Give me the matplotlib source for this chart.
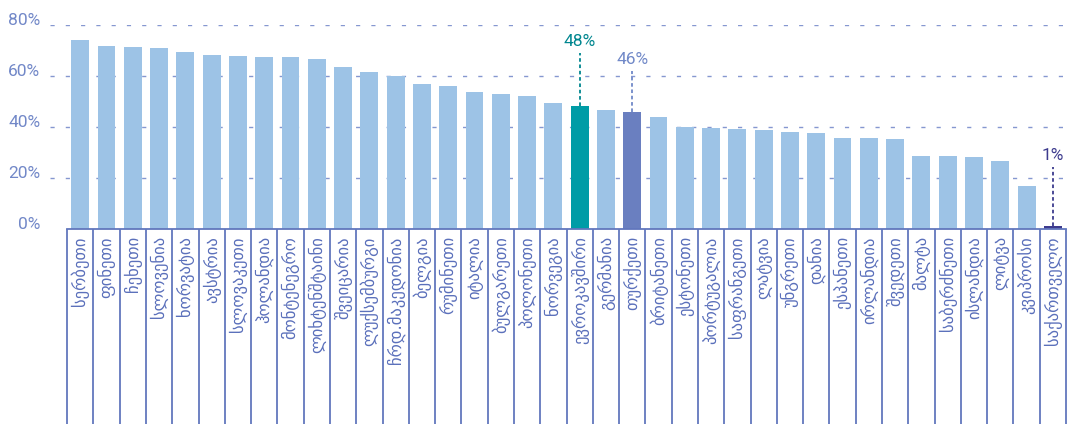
import numpy as np
import matplotlib
matplotlib.use('Agg')
import matplotlib.pyplot as plt
import matplotlib.transforms as mtransforms

#category labels (countries), left to right
countries = ['სერბეთი', 'ფინეთი', 'ჩეხეთი', 'სლოვენია', 'ხორვატია', 'ავსტრია',
             'სლოვაკეთი', 'ჰოლანდია', 'მონტენეგრო', 'ლიხტენშტაინი', 'შვეიცარია',
             'ლუქსემბურგი', 'ჩრდ.მაკედონია', 'ბელგია', 'რუმინეთი', 'იტალია',
             'ბულგარეთი', 'პოლონეთი', 'ნორვეგია', 'ევროკავშირი', 'გერმანია',
             'თურქეთი', 'ბრიტანეთი', 'ესტონეთი', 'პორტუგალია', 'საფრანგეთი',
             'ლატვია', 'უნგრეთი', 'დანია', 'ესპანეთი', 'ირლანდია', 'შვედეთი',
             'მალტა', 'საბერძნეთი', 'ისლანდია', 'ლიტვა', 'კვიპროსი', 'საქართველო']

#share in percent
values = [74.1, 71.8, 71.4, 71.0, 69.4, 68.2, 67.8, 67.5, 67.5, 66.7, 63.5,
          61.6, 60.0, 56.9, 56.1, 53.7, 52.9, 52.2, 49.4, 48.2, 46.7, 45.9,
          43.9, 40.0, 39.6, 39.2, 38.8, 38.0, 37.6, 35.7, 35.7, 35.3, 28.6,
          28.6, 28.2, 26.7, 16.9, 1.0]

#highlighted bars and their labels
highlights = {'ევროკავშირი': '48%', 'თურქეთი': '46%', 'საქართველო': '1%'}

yticks = [0, 20, 40, 60, 80]

light = '#9dc3e6'
bar_colors = {'ევროკავშირი': '#009ca6', 'თურქეთი': '#6a7fc0', 'საქართველო': '#3d3b8e'}
text_colors = {'ევროკავშირი': '#00868f', 'თურქეთი': '#7189c8', 'საქართველო': '#3d3b8e'}
label_y = {'ევროკავშირი': 70.5, 'თურქეთი': 63.5, 'საქართველო': 26.0}  #where the value text sits
axis_blue = '#6277bd'
num_font = ['Roboto', 'DejaVu Sans']

fig = plt.figure(figsize=(10.83, 4.36), dpi=100)
ax = fig.add_axes([50 / 1083, 1 - 229 / 436, 1016 / 1083, 204 / 436])

x = np.arange(len(countries))
colors = [bar_colors.get(c, light) for c in countries]
ax.bar(x, values, width=0.68, color=colors, zorder=2)

#dotted grid
for t in yticks[1:]:
    ax.axhline(t, color='#8597d0', lw=1.0, ls=(0, (3, 8)), zorder=1)

ax.set_xlim(-1.15, len(countries) - 0.5)
ax.set_ylim(0, 80)
ax.set_yticks(yticks)
ax.set_yticklabels(['%d%%' % t for t in yticks], color='#7288c8', fontsize=12.5, family=num_font)
ax.tick_params(axis='y', length=0, pad=7)
#lift the tick labels a little so they sit on the grid lines
shift = mtransforms.ScaledTranslation(0, 4 / 72, fig.dpi_scale_trans)
for lab in ax.get_yticklabels():
    lab.set_transform(lab.get_transform() + shift)
ax.set_xticks([])
for s in ax.spines.values():
    s.set_visible(False)

#baseline and separators of the category axis
ax.plot([-0.5, len(countries) - 0.5], [0, 0], color=axis_blue, lw=1.3, zorder=3, clip_on=False)
ax.vlines(np.arange(len(countries) + 1) - 0.5, -195 / 204, 0, color=axis_blue, lw=1.3,
          transform=ax.get_xaxis_transform(), clip_on=False)

#rotated category names
for i, c in enumerate(countries):
    ax.text(i, -0.035, c, rotation=90, ha='center', va='top', fontsize=12,
            color='#5b70bb', transform=ax.get_xaxis_transform())

#value labels with dashed leaders
for i, c in enumerate(countries):
    if c in highlights:
        col = text_colors[c]
        ax.text(i, label_y[c], highlights[c], ha='center', va='bottom', fontsize=12.5,
                color=col, family=num_font)
        ax.plot([i, i], [values[i], label_y[c] - 1.5], color=col, lw=1.3, ls=(0, (2, 1.5)), zorder=3)

plt.savefig('out.png', dpi=100)
